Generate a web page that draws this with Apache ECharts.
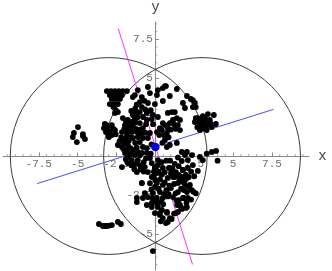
<!DOCTYPE html>
<html><head><meta charset="utf-8">
<style>html,body{margin:0;padding:0;background:#fff}#c{width:332px;height:271px}</style>
<script src="https://cdn.jsdelivr.net/npm/echarts@6/dist/echarts.min.js"></script>
</head><body><div id="c"></div>
<script>
const xMajorTicks=[-7.5,-5,-2.5,2.5,5,7.5];
const yMajorTicks=[-5,-2.5,2.5,5,7.5];
const xMinorTicks=[-9.5,-9,-8.5,-8,-7,-6.5,-6,-5.5,-4.5,-4,-3.5,-3,-2,-1.5,-1,-0.5,0.5,1,1.5,2,3,3.5,4,4.5,5.5,6,6.5,7,8,8.5,9,9.5];
const yMinorTicks=[-7,-6.5,-6,-5.5,-4.5,-4,-3.5,-3,-2,-1.5,-1,-0.5,0.5,1,1.5,2,3,3.5,4,4.5,5.5,6,6.5,7,8,8.5];
const axisNames=[['x',10.74,0],['y',0,9.55]];
const circleCenters=[[-3,0],[3,0]];
const circleRadius=[6.33];
const blueAxis=[[-7.6,-1.77],[7.6,3.0]];
const magentaAxis=[[-2.39,8.2],[2.39,-6.97]];
const meanPoint=[[0,0.58]];
const pointsFarLeft=[[-4.98,1.86],[-5.24,1.48],[-4.66,1.41],[-5.31,1.22],[-5.05,0.9],[-4.53,1.09],[-4.66,1.29]];
const pointsLowerLeft=[[-3.63,-4.37],[-3.38,-4.5],[-3.25,-4.5],[-3.12,-4.5],[-2.8,-4.44],[-2.95,-4.47],[-2.41,-4.24],[-2.22,-4.37],[-0.16,-6.11]];
const pointsRightClump=[[2.54,2.19],[2.73,2.44],[3.05,2.57],[3.38,2.7],[3.76,2.64],[2.86,1.99],[3.18,2.19],[3.5,2.32],[3.05,1.8],[3.3,1.67],[3.63,1.86],[3.89,2.06],[2.6,2.44],[2.86,1.67],[3.2,2.4],[2.8,2.2],[3.4,2.0],[3.1,2.1],[2.7,1.85],[2.95,2.35],[3.25,1.95],[3.55,2.1]];
const pointsUpperRight=[[1.38,4.31],[0.93,3.86],[0.68,4.5],[2.03,3.86],[2.41,3.6],[2.54,3.41],[2.41,3.15],[1.77,3.41],[1.9,3.09],[2.28,3.67],[2.6,3.15],[0.61,4.5],[0.16,4.24]];
const pointsUpperBlock=[[-3.12,4.18],[-2.86,4.18],[-2.6,4.18],[-2.35,4.18],[-2.09,4.18],[-1.83,4.18],[-2.93,3.92],[-2.67,3.92],[-2.41,3.92],[-2.15,3.92],[-2.8,3.67],[-2.54,3.67],[-2.28,3.67],[-2.93,3.34],[-2.67,3.34],[-2.41,3.34],[-2.41,2.83],[-2.6,2.77],[-3.25,2.06],[-3.05,1.8],[-3.18,1.54],[-2.8,1.99],[-2.93,1.54],[-2.6,1.67],[-3.31,1.8],[-2.8,1.35],[-3.0,1.3],[-2.55,1.4],[-3.15,2.0],[-2.7,1.75],[-2.7,3.15],[-2.55,2.95]];
const pointsUpperCenter=[[-1.13,4.24],[-1.32,3.92],[-1.45,3.79],[-0.48,4.44],[-0.35,4.05],[0.1,3.92],[0.48,4.37],[-0.87,3.79],[-1,3.47],[-0.87,3.15],[-0.48,3.41],[-0.03,3.34],[0.48,3.54],[-1.19,2.83],[-1,2.83],[-1.45,2.64],[-0.55,2.77],[-0.16,2.64],[0.16,2.51],[-0.8,2.51],[-1.77,2.32],[-1.51,2.19],[-1.32,2.44],[-2.09,2.44],[-0.55,2.32],[-0.23,2.38],[-1.96,1.99],[-1.77,1.8],[-1.45,1.99],[-1,2.12],[-0.8,1.8],[-0.35,1.48],[-2.15,1.54],[-1.83,1.48],[-1.51,1.54],[-1.19,1.54],[-1.65,2.05],[-1.25,2.15],[-1.6,1.7],[-1.25,1.75],[-1.0,1.7],[-2.0,1.75],[-0.65,1.5],[-0.95,1.45],[-1.9,2.25],[-1.15,2.5],[-0.6,2.05],[-1.2,3.3],[-0.65,3.0],[-1.3,3.05],[-0.3,2.95],[-0.7,3.55],[-0.15,2.05],[-1.55,2.9]];
const pointsMiddleLeft=[[-2.99,1.22],[-2.41,0.71],[-1.96,1.03],[-1.64,1.22],[-2.15,0.58],[-1.77,0.71],[-1.45,1.16],[-1.13,1.22],[-0.8,1.16],[-0.48,1.16],[-1.83,0.39],[-1.45,0.39],[-1.13,0.26],[-0.8,0.58],[-1.64,0.06],[-1.32,0.06],[-0.87,0.19],[-0.55,0.51],[-1.51,-0.26],[-1.13,-0.26],[-2.15,-0.71],[-1.77,-0.45],[-1.45,-0.58],[-1,-0.58],[-1.19,-1.03],[-0.68,-0.71],[-0.35,-0.13],[-0.48,-1.03],[-0.87,-1.74],[-0.03,-0.71],[-0.23,-1.35],[0.1,-1.09],[0.1,-1.74],[-2,0.8],[-1.6,0.5],[-2.2,1.2],[-1.95,0.2],[-1.9,-0.2],[-1.7,1.0],[-1.3,0.85],[-2.05,0.45],[-1.55,-0.6],[-1.25,-0.5],[-0.75,-0.4],[-0.6,-0.15],[-1.0,0.05],[-0.3,0.15],[-0.75,-1.0],[-0.95,-0.85],[-1.6,0.25],[-1.2,0.55],[-0.55,0.2],[-1.75,-0.05],[-1.35,-0.85],[-2.3,0.95],[-1.85,1.25],[-1.0,0.9],[-0.25,0.75]];
const pointsRightOfMean=[[0.48,2.12],[0.29,1.8],[1.38,2.44],[1.58,2.32],[1.13,2.32],[0.93,2.12],[0.8,1.8],[0.74,1.48],[1.58,1.67],[1.45,1.99],[0.1,1.54],[0.42,1.67],[0.61,1.99],[1.06,2.83],[0.8,2.77],[1.25,2.83],[0.61,1.03],[0.93,0.71],[0.74,0.58],[1.38,0.84],[1.2,2.05],[1.0,1.7],[0.55,1.35],[0.25,1.35],[0.85,1.2],[1.3,1.75],[0.45,0.85]];
const pointsLowerEdge=[[1.7,0.26],[2.03,0.26],[2.35,0.06],[1.9,0.06],[2.86,-0.06],[3.05,-0.26],[3.63,0.26],[3.3,0.16],[3.9,0.33],[4.0,-0.3],[1.7,-0.32],[2.09,-0.26],[2.41,-0.58],[2.73,-0.96],[1.77,-0.9],[0.93,-0.77],[0.48,-0.77],[-0.23,-0.45],[-0.03,-0.77],[0.16,-0.26],[1.25,-1.35],[1.58,-1.35],[2.03,-1.41],[2.22,-1.86],[2.35,-2.19],[1.9,-1.86],[2.03,-2.32],[2.09,-2.7],[1.77,-2.7],[2.03,-3.28],[1.58,-3.15],[1.45,-3.6],[0.74,-3.6],[0.29,-3.67],[-0.23,-3.28],[1.45,-0.1],[1.25,-0.5],[0.7,-0.3],[0.4,-0.4],[0.95,-0.3],[1.1,-0.8],[1.5,-0.65],[2.3,-1.0],[2.5,-1.3],[2.45,-2.3],[2.6,-2.4],[2.3,-2.8],[2.0,-3.0],[1.7,-3.4]];
const pointsLowerMass=[[-0.87,-1.74],[-0.68,-2.38],[-0.48,-2.64],[-0.8,-2.7],[-1.19,-2.7],[-1.19,-2.96],[-0.55,-3.15],[-0.23,-3.02],[-0.03,-3.67],[0.29,-3.79],[0.48,-3.99],[0.42,-3.47],[-0.03,-2.83],[0.16,-3.28],[-0.16,-2.38],[-0.03,-1.99],[0.29,-2.32],[0.48,-1.86],[0.48,-2.7],[0.8,-4.24],[0.68,-4.31],[0.93,-3.99],[1.32,-3.67],[1.96,-3.34],[1.64,-3.28],[1.4,-3.15],[1.51,-2.83],[1.83,-2.7],[0.8,-2.6],[1.13,-2.64],[1.45,-2.32],[1.83,-2.19],[1,-2.06],[1.45,-1.74],[1.77,-1.67],[2.15,-1.99],[1.13,-1.35],[1.51,-1.22],[1.96,-1.22],[2.15,-1.35],[0.87,-0.77],[1.32,-1.03],[1.77,-0.9],[2.09,-0.77],[0.8,-1.41],[0.4,-1.2],[0.6,-1.7],[0.9,-1.9],[0.3,-1.5],[0.7,-2.2],[1.2,-1.8],[1.3,-2.4],[0.5,-3.1],[1.2,-3.7],[0.1,-2.7],[1.65,-2.1],[1.0,-1.1],[0.2,-2.1],[0.85,-2.45],[1.35,-2.85],[0.2,-1.0],[-0.35,-1.75],[-0.1,-1.35],[-0.25,-2.15],[0.0,-1.55],[-0.2,-2.7],[0.1,-3.05],[0.35,-2.95],[0.15,-0.6],[0.6,-1.05],[0.55,-2.45],[1.55,-1.6],[1.7,-1.35],[1.9,-1.55],[0.75,-3.65],[0.35,-4.2],[1.05,-4.05],[-0.1,-1.0],[0.05,-0.9]];
const allPoints=[...pointsFarLeft,...pointsLowerLeft,...pointsRightClump,...pointsUpperRight,...pointsUpperBlock,...pointsUpperCenter,...pointsMiddleLeft,...pointsRightOfMean,...pointsLowerEdge,...pointsLowerMass];

const gray='#8a8a8a';
const labelFont='11px "Liberation Mono", "DejaVu Sans Mono", monospace';
const nameFont='14px "Liberation Mono", "DejaVu Sans Mono", monospace';
const axisOf=(ticks,pos,min,max)=>({
 type:'value',position:pos,min:min,max:max,z:1,splitLine:{show:false},
 axisLine:{onZero:true,lineStyle:{color:gray,width:1}},
 axisTick:{show:true,length:3.5,inside:true,customValues:ticks,lineStyle:{color:gray}},
 axisLabel:{show:false}
});
const minorTickSeries=(vals,isX)=>({
 type:'custom',coordinateSystem:'cartesian2d',z:1,clip:false,silent:true,
 data:vals.map(v=>isX?[v,0]:[0,v]),
 renderItem:(p,api)=>{
  const c=api.coord([api.value(0),api.value(1)]);
  return {type:'line',shape:isX?{x1:c[0],y1:c[1],x2:c[0],y2:c[1]-2}:{x1:c[0],y1:c[1],x2:c[0]+2,y2:c[1]},style:{stroke:'#aaa',lineWidth:1}};
 }
});
const tickLabelSeries=(vals,isX)=>({
 type:'custom',coordinateSystem:'cartesian2d',z:1,clip:false,silent:true,
 data:vals.map(v=>isX?[v,0]:[0,v]),
 renderItem:(p,api)=>{
  const c=api.coord([api.value(0),api.value(1)]);
  const v=isX?api.value(0):api.value(1);
  return {type:'text',style:{text:String(v),x:isX?c[0]:c[0]-2.5,y:isX?c[1]+8:c[1],
    align:isX?'center':'right',verticalAlign:'middle',fill:'#6e6e6e',font:labelFont}};
 }
});
const chart=echarts.init(document.getElementById('c'),null,{renderer:'canvas'});
chart.setOption({
 animation:false,
 grid:{left:3,top:22,width:306,height:248,containLabel:false,outerBoundsMode:'none'},
 xAxis:axisOf(xMajorTicks,'bottom',-9.8,9.88),
 yAxis:axisOf(yMajorTicks,'left',-7.33,8.62),
 series:[
  minorTickSeries(xMinorTicks,true),
  minorTickSeries(yMinorTicks,false),
  tickLabelSeries(xMajorTicks,true),
  tickLabelSeries(yMajorTicks,false),
  {type:'custom',coordinateSystem:'cartesian2d',z:1,clip:false,silent:true,data:axisNames,
   encode:{x:1,y:2},
   renderItem:(p,api)=>{
    const c=api.coord([axisNames[p.dataIndex][1],axisNames[p.dataIndex][2]]);
    return {type:'text',style:{text:axisNames[p.dataIndex][0],x:c[0],y:c[1],align:'center',verticalAlign:'middle',
      fill:'#444',font:nameFont}};
   }},
  {type:'custom',coordinateSystem:'cartesian2d',z:2,clip:false,data:circleCenters,
   renderItem:(p,api)=>{
    const c=api.coord([api.value(0),api.value(1)]);
    const r=api.size([circleRadius[0],0])[0];
    return {type:'circle',shape:{cx:c[0],cy:c[1],r:r},style:{fill:'none',stroke:'#3c3c3c',lineWidth:1}};
   }},
  {type:'line',z:3,data:blueAxis,symbol:'none',lineStyle:{color:'#4a4aff',width:1}},
  {type:'line',z:3,data:magentaAxis,symbol:'none',lineStyle:{color:'#ff33ff',width:1}},
  {type:'scatter',z:4,data:allPoints,symbol:'circle',symbolSize:5.8,itemStyle:{color:'#000',opacity:1}},
  {type:'scatter',z:5,data:meanPoint,symbol:'circle',symbolSize:8.5,itemStyle:{color:'#0000e6',opacity:1}}
 ]
});
</script></body></html>
